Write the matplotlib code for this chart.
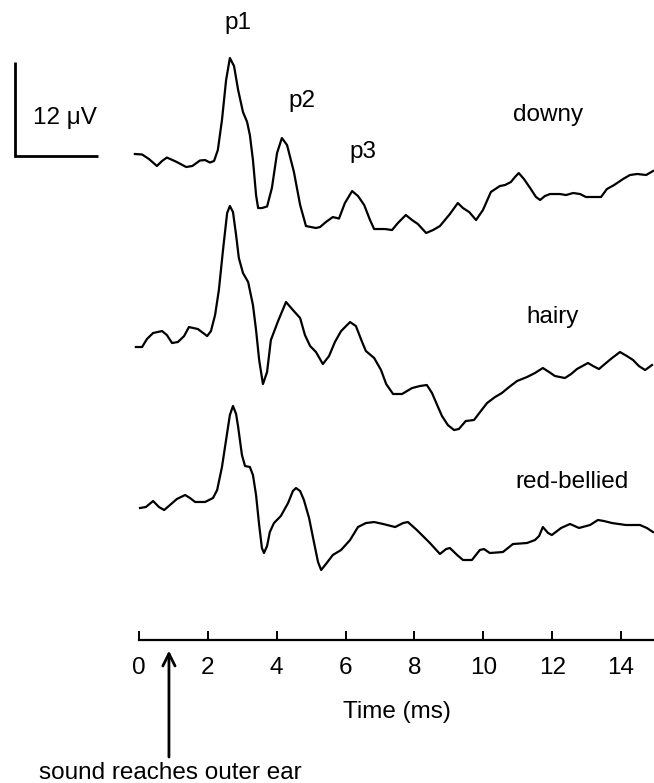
import numpy as np
import matplotlib
matplotlib.use("Agg")
import matplotlib.pyplot as plt

plt.rcParams["font.family"] = ["Liberation Sans", "DejaVu Sans"]

# ── Datos (tiempo en ms, amplitud en µV respecto a la línea base de cada traza) ──
t_downy = [-0.12, 0.09, 0.29, 0.52, 0.67, 0.81, 1.07, 1.37, 1.55, 1.77, 1.92, 2.06,
           2.18, 2.29, 2.41, 2.53, 2.64, 2.76, 2.88, 3.02, 3.14, 3.22, 3.31, 3.40,
           3.46, 3.57, 3.72, 3.86, 4.01, 4.15, 4.30, 4.50, 4.68, 4.85, 5.14, 5.26,
           5.43, 5.63, 5.81, 5.98, 6.19, 6.36, 6.54, 6.71, 6.83, 7.00, 7.15, 7.35,
           7.52, 7.75, 7.93, 8.10, 8.34, 8.54, 8.74, 9.03, 9.26, 9.41, 9.59, 9.79,
           9.99, 10.22, 10.48, 10.63, 10.80, 10.92, 11.03, 11.18, 11.36, 11.53,
           11.65, 11.79, 11.94, 12.23, 12.40, 12.61, 12.81, 12.98, 13.22, 13.42,
           13.59, 13.80, 14.06, 14.26, 14.47, 14.73, 14.93]
v_downy = [0.00, -0.06, -0.64, -1.53, -0.89, -0.45, -0.96, -1.66, -1.53, -0.83, -0.77,
           -1.09, -0.89, 0.51, 4.34, 9.45, 12.26, 11.24, 8.17, 5.36, 4.09, 2.43, -0.77,
           -5.24, -6.90, -6.90, -6.70, -4.34, 0.13, 2.04, 1.15, -2.30, -6.51, -9.20,
           -9.45, -9.32, -8.68, -8.05, -8.24, -6.26, -4.73, -5.36, -6.51, -8.43, -9.58,
           -9.58, -9.58, -9.71, -8.81, -7.79, -8.43, -8.94, -10.09, -9.71, -9.20, -7.66,
           -6.26, -6.90, -7.41, -8.43, -7.15, -4.85, -4.09, -3.96, -3.58, -2.94, -2.43,
           -3.19, -4.34, -5.49, -5.87, -5.36, -5.11, -5.11, -5.24, -4.98, -5.11, -5.49,
           -5.49, -5.49, -4.47, -3.96, -3.19, -2.68, -2.55, -2.68, -2.17]

t_hairy = [-0.09, 0.09, 0.23, 0.41, 0.67, 0.81, 0.96, 1.13, 1.31, 1.45, 1.71, 1.98,
           2.09, 2.21, 2.32, 2.44, 2.56, 2.64, 2.73, 2.82, 2.90, 3.02, 3.17, 3.31,
           3.40, 3.49, 3.60, 3.72, 3.83, 4.04, 4.27, 4.47, 4.68, 4.82, 4.97, 5.14,
           5.34, 5.52, 5.69, 5.87, 6.13, 6.30, 6.48, 6.59, 6.83, 7.03, 7.18, 7.38,
           7.64, 7.93, 8.16, 8.36, 8.51, 8.66, 8.80, 8.97, 9.15, 9.29, 9.49, 9.73,
           9.93, 10.11, 10.34, 10.54, 10.75, 10.98, 11.27, 11.50, 11.73, 11.91,
           12.08, 12.37, 12.55, 12.72, 13.04, 13.19, 13.36, 13.53, 13.74, 13.97,
           14.17, 14.35, 14.52, 14.70, 14.90]
v_hairy = [0.00, 0.00, 1.02, 1.79, 2.04, 1.53, 0.51, 0.64, 1.40, 2.55, 2.30, 1.40,
           2.04, 4.09, 7.28, 12.39, 17.11, 18.01, 17.24, 14.30, 11.37, 9.45, 8.30,
           5.36, 2.17, -1.66, -4.73, -3.19, 0.89, 3.32, 5.75, 4.73, 3.70, 1.53, 0.13,
           -0.64, -2.17, -1.15, 0.64, 2.04, 3.19, 2.68, 0.64, -0.51, -1.40, -2.94,
           -4.73, -6.00, -6.00, -5.24, -4.98, -4.85, -5.87, -7.41, -8.81, -9.96,
           -10.60, -10.47, -9.45, -9.32, -8.17, -7.15, -6.39, -5.87, -5.11, -4.34,
           -3.83, -3.32, -2.68, -3.19, -3.70, -3.96, -3.45, -2.81, -2.04, -2.43,
           -2.81, -2.17, -1.40, -0.64, -1.15, -1.66, -2.43, -2.94, -2.30]

t_red = [0.03, 0.20, 0.41, 0.58, 0.73, 0.90, 1.10, 1.34, 1.48, 1.63, 1.92, 2.15,
         2.27, 2.41, 2.56, 2.64, 2.73, 2.82, 2.88, 2.99, 3.08, 3.22, 3.31, 3.40,
         3.49, 3.57, 3.63, 3.72, 3.80, 3.92, 4.12, 4.33, 4.47, 4.56, 4.68, 4.79,
         4.94, 5.08, 5.20, 5.29, 5.43, 5.63, 5.87, 6.13, 6.36, 6.59, 6.83, 7.09,
         7.44, 7.67, 7.81, 8.07, 8.45, 8.74, 8.92, 9.03, 9.24, 9.41, 9.67, 9.90,
         10.02, 10.19, 10.57, 10.86, 11.27, 11.50, 11.62, 11.73, 11.88, 11.99,
         12.26, 12.52, 12.78, 13.10, 13.33, 13.50, 13.74, 14.14, 14.55, 14.75, 14.93]
v_red = [0.00, 0.13, 0.89, 0.13, -0.26, 0.38, 1.15, 1.66, 1.28, 0.77, 0.77, 1.28,
         2.30, 5.24, 9.58, 11.88, 13.03, 12.01, 10.34, 6.77, 5.36, 5.24, 4.21, 1.66,
         -2.17, -5.11, -5.75, -4.85, -3.07, -1.92, -1.02, 0.64, 2.17, 2.55, 2.17,
         1.02, -1.28, -4.34, -6.90, -7.92, -7.15, -6.00, -5.36, -4.09, -2.43, -1.92,
         -1.79, -2.04, -2.43, -1.92, -1.79, -2.81, -4.47, -5.87, -5.24, -5.11, -6.00,
         -6.64, -6.64, -5.36, -5.24, -5.75, -5.62, -4.60, -4.47, -4.09, -3.58, -2.43,
         -3.19, -3.45, -2.55, -2.04, -2.55, -2.17, -1.53, -1.66, -1.92, -2.17, -2.17,
         -2.55, -3.07]

species = ["downy", "hairy", "red-bellied"]
offsets = [62.07, 37.42, 16.86]          # posición vertical de cada traza (µV)
label_pos = [(11.88, 67.0), (12.02, 41.3), (12.58, 20.2)]
peaks = [("p1", 2.88, 78.8), ("p2", 4.73, 68.8), ("p3", 6.51, 62.3)]
xticks = [0, 2, 4, 6, 8, 10, 12, 14]
scale_uV = 12
arrow_t = 0.87

FS = 17.5
LW = 1.6

# ── Figura ───────────────────────────────────────────────────────────────────
fig = plt.figure(figsize=(6.54, 7.83), dpi=100)
ax = fig.add_axes([0, 0, 1, 1])
ax.set_xlim(-4.037, 14.958)
ax.set_ylim(-18.26, 81.74)

for t, v, off in zip([t_downy, t_hairy, t_red], [v_downy, v_hairy, v_red], offsets):
    ax.plot(t, np.array(v) + off, color="black", lw=LW, solid_joinstyle="round")

for name, (x, y) in zip(species, label_pos):
    ax.text(x, y, name, fontsize=FS, ha="center", va="center")
for name, x, y in peaks:
    ax.text(x, y, name, fontsize=FS, ha="center", va="center")

# barra de escala
ax.plot([-3.60, -3.60, -1.19], [61.8 + scale_uV, 61.8, 61.8],
        color="black", lw=2.0, solid_capstyle="butt", solid_joinstyle="miter")
ax.text(-3.08, 66.7, "12 \u03bcV", fontsize=FS, ha="left", va="center")

# eje de tiempo
for s in ["left", "right", "top"]:
    ax.spines[s].set_visible(False)
ax.spines["bottom"].set_position(("data", 0))
ax.spines["bottom"].set_bounds(0, 14.958)
ax.spines["bottom"].set_linewidth(1.6)
ax.set_yticks([])
ax.set_xticks(xticks)
ax.set_xticklabels([str(v) for v in xticks])
ax.tick_params(axis="x", direction="in", length=6.5, width=1.4,
               labelsize=FS, pad=12)
ax.text(7.5, -9.2, "Time (ms)", fontsize=FS, ha="center", va="center")

ax.annotate("", xy=(arrow_t, -1.0), xytext=(arrow_t, -15.3),
            arrowprops=dict(arrowstyle="->", lw=2.0, color="black",
                            mutation_scale=22))
ax.text(arrow_t + 0.05, -17.0, "sound reaches outer ear", fontsize=FS,
        ha="center", va="center")

fig.savefig("out.png", dpi=100)
